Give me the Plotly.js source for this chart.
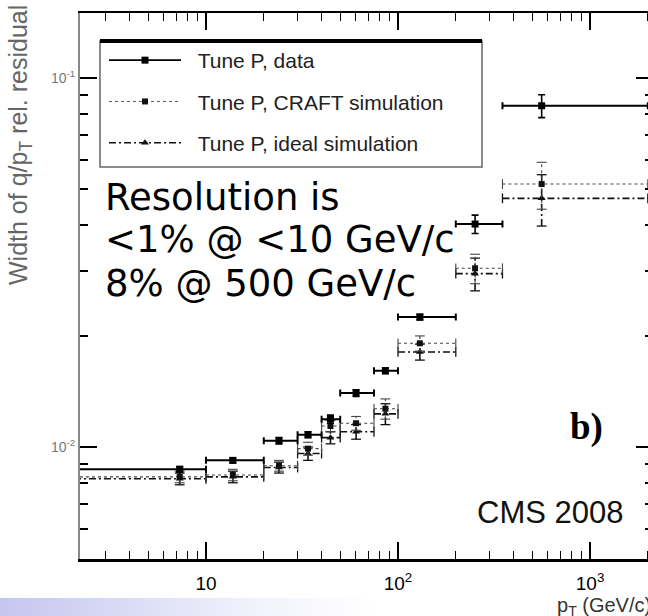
<!DOCTYPE html>
<html><head><meta charset="utf-8">
<script src="https://cdn.plot.ly/plotly-3.0.1.min.js"></script>
<style>
html,body{margin:0;padding:0;overflow:hidden;background:#fff;width:648px;height:616px}
#band{position:absolute;left:0;top:598px;width:648px;height:18px;background:linear-gradient(to right,#c4c6ee 0%,#d8daf5 18%,#f2f3fc 40%,#ffffff 58%);}
#chart{position:absolute;left:0;top:0;width:654px;height:616px}
</style></head><body>
<div id="band"></div><div id="chart"></div>
<script>
// ---- data ----
const binLow    = [1, 10, 20, 30, 40, 50, 75, 100, 200, 350];
const binHigh   = [10, 20, 30, 40, 50, 75, 100, 200, 350, 2000];
const ptCenter  = [7.3, 13.8, 24, 34, 44.5, 60.5, 86, 130, 252, 560];
const dataWidth = [0.0087, 0.0092, 0.0104, 0.0108, 0.0119, 0.0140, 0.0161, 0.0225, 0.0402, 0.0841];
const dataErr   = [0.00015, 0.00015, 0.0002, 0.0002, 0.0003, 0.0003, 0.0003, 0.0004, 0.0023, 0.006];
const craftWidth = [0.0083, 0.0084, 0.0089, 0.0099, 0.0114, 0.0116, 0.0127, 0.0191, 0.0305, 0.0516];
const craftErr   = [0.0003, 0.0003, 0.0003, 0.0004, 0.0004, 0.0005, 0.0008, 0.0009, 0.0028, 0.0075];
const idealWidth = [0.0082, 0.0083, 0.0088, 0.0096, 0.0106, 0.0110, 0.0123, 0.0181, 0.0295, 0.0472];
const idealErr   = [0.0003, 0.0003, 0.0003, 0.0004, 0.0004, 0.0005, 0.0008, 0.0009, 0.0030, 0.0075];
const seriesNames = ['Tune P, data', 'Tune P, CRAFT simulation', 'Tune P, ideal simulation'];
const xTickVals = [10, 100, 1000];
const xTickText = ['10', '10<sup>2</sup>', '10<sup>3</sup>'];
const xMinorVals = [3,4,5,6,7,8,9,20,30,40,50,60,70,80,90,200,300,400,500,600,700,800,900,2000];
const yTickVals = [0.01, 0.1];
const yTickText = ['10<sup>-2</sup>', '10<sup>-1</sup>'];
const yMinorVals = [0.005,0.006,0.007,0.008,0.009,0.02,0.03,0.04,0.05,0.06,0.07,0.08,0.09];
const noteLines = ['Resolution is', '&lt;1% @ &lt;10 GeV/c', '8% @ 500 GeV/c'];

// ---- helpers ----
const L = 80, R = 653, T = 13, B = 559;
const px = v => (v - L) / (R - L);
const py = v => (B - v) / (B - T);
const NB = '\u00a0\u00a0';

function segs(vals, errs) {
  const x = [], y = [];
  for (let i = 0; i < vals.length; i++) {
    x.push(binLow[i], binHigh[i], null, ptCenter[i], ptCenter[i], null);
    y.push(vals[i], vals[i], null, vals[i] - errs[i], vals[i] + errs[i], null);
  }
  return {x, y};
}
function caps(vals, errs) {
  const x = [], y = [], s = [];
  for (let i = 0; i < vals.length; i++) {
    x.push(binLow[i], binHigh[i], ptCenter[i], ptCenter[i]);
    y.push(vals[i], vals[i], vals[i] - errs[i], vals[i] + errs[i]);
    s.push('line-ns', 'line-ns', 'line-ew', 'line-ew');
  }
  return {x, y, s};
}

const sc = segs(craftWidth, craftErr), cc = caps(craftWidth, craftErr);
const si = segs(idealWidth, idealErr), ci = caps(idealWidth, idealErr);

const traces = [
  // ideal simulation (dash-dot)
  {x: si.x, y: si.y, mode: 'lines', line: {color: '#111', width: 1.6, dash: '7px,3px,2px,3px'}, showlegend: false, hoverinfo: 'skip'},
  {x: ci.x, y: ci.y, mode: 'markers', marker: {symbol: ci.s, size: 7, color: '#111', line: {color: '#111', width: 1.3}}, showlegend: false, hoverinfo: 'skip'},
  {x: ptCenter, y: idealWidth, mode: 'markers', marker: {symbol: 'triangle-up', size: 7, color: '#111'}, showlegend: false},
  // CRAFT simulation (dashed)
  {x: sc.x, y: sc.y, mode: 'lines', line: {color: '#444', width: 1.1, dash: '3px,3px'}, showlegend: false, hoverinfo: 'skip'},
  {x: cc.x, y: cc.y, mode: 'markers', marker: {symbol: cc.s, size: 7, color: '#444', line: {color: '#444', width: 1.1}}, showlegend: false, hoverinfo: 'skip'},
  {x: ptCenter, y: craftWidth, mode: 'markers', marker: {symbol: 'square', size: 6, color: '#111'}, showlegend: false},
  // data (solid)
  {x: ptCenter, y: dataWidth, mode: 'markers', marker: {symbol: 'square', size: 7, color: '#000'}, showlegend: false,
   error_x: {type: 'data', symmetric: false,
             array: binHigh.map((h, i) => h - ptCenter[i]),
             arrayminus: binLow.map((l, i) => ptCenter[i] - l),
             color: '#000', thickness: 2, width: 3.5},
   error_y: {type: 'data', array: dataErr, color: '#000', thickness: 1.6, width: 3.5}},
  // legend entries
  {x: [null], y: [null], name: NB + seriesNames[0], legendgroup: 'a', mode: 'lines+markers', line: {color: '#000', width: 1.6}, marker: {symbol: 'square', size: 7, color: '#000'}},
  {x: [null], y: [null], name: NB + seriesNames[1], legendgroup: 'b', mode: 'lines+markers', line: {color: '#555', width: 1, dash: '3px,3px'}, marker: {symbol: 'square', size: 6, color: '#111'}},
  {x: [null], y: [null], name: NB + seriesNames[2], legendgroup: 'c', mode: 'lines+markers', line: {color: '#111', width: 1.6, dash: '7px,3px,2px,3px'}, marker: {symbol: 'triangle-up', size: 7, color: '#111'}}
];

const annotations = noteLines.map((t, i) => ({
  text: t, xref: 'paper', yref: 'paper', x: px(103), y: py(197 + 43 * i),
  xanchor: 'left', yanchor: 'middle', showarrow: false,
  font: {family: 'DejaVu Sans', size: 37, color: '#000'}
}));
annotations.push(
  {text: 'b)', xref: 'paper', yref: 'paper', x: px(586), y: py(427), xanchor: 'center', yanchor: 'middle', showarrow: false,
   font: {family: 'Liberation Serif', size: 37, color: '#000', weight: 'bold'}},
  {text: 'CMS 2008', xref: 'paper', yref: 'paper', x: px(475), y: py(512), xanchor: 'left', yanchor: 'middle', showarrow: false,
   font: {family: 'Liberation Sans', size: 31, color: '#111'}},
  {text: 'Width of q/p<sub>T</sub> rel. residual', xref: 'paper', yref: 'paper', x: px(20), y: py(3), xanchor: 'center', yanchor: 'top',
   textangle: -90, showarrow: false, font: {family: 'Liberation Sans', size: 25, color: '#666'}},
  {text: 'p<sub>T</sub> (GeV/c)', xref: 'paper', yref: 'paper', x: px(555), y: py(606), xanchor: 'left', yanchor: 'middle', showarrow: false,
   font: {family: 'Liberation Sans', size: 20, color: '#333'}}
);

const layout = {
  width: 654, height: 616,
  margin: {l: L, r: 654 - R, t: T, b: 616 - B, pad: 0},
  paper_bgcolor: 'rgba(0,0,0,0)', plot_bgcolor: '#fff',
  showlegend: true,
  legend: {x: px(104), y: py(40), xanchor: 'left', yanchor: 'top', bgcolor: 'rgba(0,0,0,0)', borderwidth: 0,
           font: {family: 'Liberation Sans', size: 21, color: '#222'}, itemwidth: 72, tracegroupgap: 11, traceorder: 'grouped'},
  xaxis: {type: 'log', range: [0.344, 3.328], showgrid: false, zeroline: false,
          showline: true, linecolor: '#000', linewidth: 2.5, mirror: 'allticks',
          ticks: 'inside', ticklen: 17, tickwidth: 1.5, tickcolor: '#000',
          tickmode: 'array', tickvals: xTickVals, ticktext: xTickText, ticklabelstandoff: 6,
          tickfont: {family: 'Liberation Sans', size: 19, color: '#000'},
          minor: {ticks: 'inside', ticklen: 8, tickwidth: 1.3, tickcolor: '#000', tickvals: xMinorVals, showgrid: false}},
  yaxis: {type: 'log', range: [-2.3035, -0.8238], showgrid: false, zeroline: false,
          showline: true, linecolor: '#888', linewidth: 2, mirror: 'allticks',
          ticks: 'inside', ticklen: 17, tickwidth: 2, tickcolor: '#000',
          tickmode: 'array', tickvals: yTickVals, ticktext: yTickText,
          tickfont: {family: 'Liberation Sans', size: 14, color: '#777'},
          minor: {ticks: 'inside', ticklen: 8, tickwidth: 2, tickcolor: '#000', tickvals: yMinorVals, showgrid: false}},
  shapes: [
    {type: 'rect', xref: 'paper', yref: 'paper', x0: px(100), x1: px(482), y0: py(167), y1: py(41),
     fillcolor: '#fff', line: {color: '#666', width: 1.5}, layer: 'above'},
    {type: 'line', xref: 'paper', yref: 'paper', x0: px(100), x1: px(482), y0: py(41), y1: py(41),
     line: {color: '#000', width: 4}, layer: 'above'}
  ],
  annotations: annotations
};

Plotly.newPlot('chart', traces, layout, {displayModeBar: false, staticPlot: true});
</script>
</body></html>
